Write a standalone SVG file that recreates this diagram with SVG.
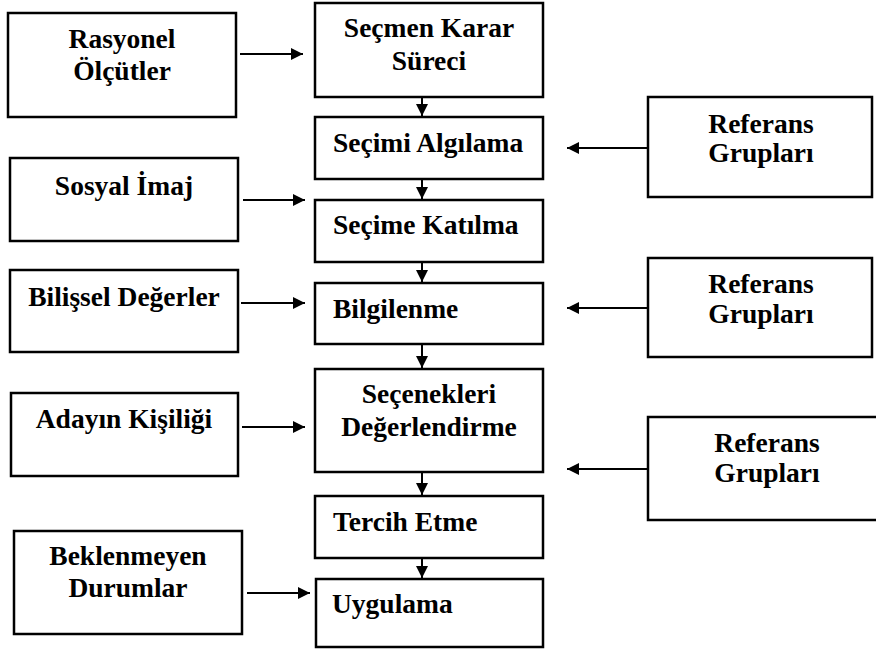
<svg xmlns="http://www.w3.org/2000/svg" width="876" height="652" viewBox="0 0 876 652">
<defs>
<marker id="ah" markerWidth="12" markerHeight="12" refX="12" refY="6" orient="auto" markerUnits="userSpaceOnUse">
<path d="M0,0 L12,6 L0,12 Z" fill="#000"/>
</marker>
<style>
.box{fill:#fff;stroke:#000;stroke-width:2.5}
.t{font-family:"Liberation Serif","Times New Roman",serif;font-weight:bold;font-size:27.5px;fill:#000}
.c{text-anchor:middle}
.ln{stroke:#000;stroke-width:2;fill:none;marker-end:url(#ah)}
</style>
</defs>
<rect width="876" height="652" fill="#fff"/>
<g id="connectors">
<line class="ln" x1="240" y1="54" x2="303" y2="54"/>
<line class="ln" x1="243" y1="200" x2="305" y2="200"/>
<line class="ln" x1="241" y1="303" x2="305" y2="303"/>
<line class="ln" x1="242" y1="427" x2="305" y2="427"/>
<line class="ln" x1="247" y1="593" x2="310" y2="593"/>
<line class="ln" x1="648" y1="148" x2="567" y2="148"/>
<line class="ln" x1="648" y1="308" x2="567" y2="308"/>
<line class="ln" x1="648" y1="469" x2="567" y2="469"/>
<line class="ln" x1="422" y1="97" x2="422" y2="116"/>
<line class="ln" x1="422" y1="179" x2="422" y2="199"/>
<line class="ln" x1="422" y1="262" x2="422" y2="282"/>
<line class="ln" x1="422" y1="344" x2="422" y2="368"/>
<line class="ln" x1="422" y1="472" x2="422" y2="495"/>
<line class="ln" x1="422" y1="558" x2="422" y2="578"/>
</g>
<g id="rasyonel"><rect class="box" x="8" y="13" width="228" height="104"/><text class="t c" x="122" y="48">Rasyonel</text><text class="t c" x="122" y="80">Ölçütler</text></g>
<g id="sosyal"><rect class="box" x="10" y="158" width="228" height="83"/><text class="t c" x="124" y="195">Sosyal İmaj</text></g>
<g id="bilissel"><rect class="box" x="10" y="270" width="228" height="82"/><text class="t c" x="124" y="306">Bilişsel Değerler</text></g>
<g id="aday"><rect class="box" x="11" y="393" width="227" height="83"/><text class="t c" x="124" y="428">Adayın Kişiliği</text></g>
<g id="beklenmeyen"><rect class="box" x="14" y="531" width="228" height="103"/><text class="t c" x="128" y="565">Beklenmeyen</text><text class="t c" x="128" y="597">Durumlar</text></g>
<g id="secmen"><rect class="box" x="315" y="3" width="228" height="94"/><text class="t c" x="429" y="37">Seçmen Karar</text><text class="t c" x="429" y="70">Süreci</text></g>
<g id="algilama"><rect class="box" x="315" y="117" width="228" height="62"/><text class="t" x="333" y="152">Seçimi Algılama</text></g>
<g id="katilma"><rect class="box" x="315" y="200" width="228" height="62"/><text class="t" x="333" y="234">Seçime Katılma</text></g>
<g id="bilgilenme"><rect class="box" x="315" y="283" width="228" height="61"/><text class="t" x="333" y="318">Bilgilenme</text></g>
<g id="secenekler"><rect class="box" x="315" y="369" width="228" height="103"/><text class="t c" x="429" y="403">Seçenekleri</text><text class="t c" x="429" y="436">Değerlendirme</text></g>
<g id="tercih"><rect class="box" x="315" y="496" width="228" height="62"/><text class="t" x="333" y="531">Tercih Etme</text></g>
<g id="uygulama"><rect class="box" x="316" y="579" width="227" height="68"/><text class="t" x="332" y="613">Uygulama</text></g>
<g id="referans1"><rect class="box" x="648" y="97" width="224" height="100"/><text class="t c" x="761" y="133">Referans</text><text class="t c" x="761" y="162">Grupları</text></g>
<g id="referans2"><rect class="box" x="648" y="258" width="224" height="99"/><text class="t c" x="761" y="293">Referans</text><text class="t c" x="761" y="323">Grupları</text></g>
<g id="referans3"><path class="box" d="M880,417 H648 V520 H880"/><text class="t c" x="767" y="452">Referans</text><text class="t c" x="767" y="482">Grupları</text></g>
</svg>
